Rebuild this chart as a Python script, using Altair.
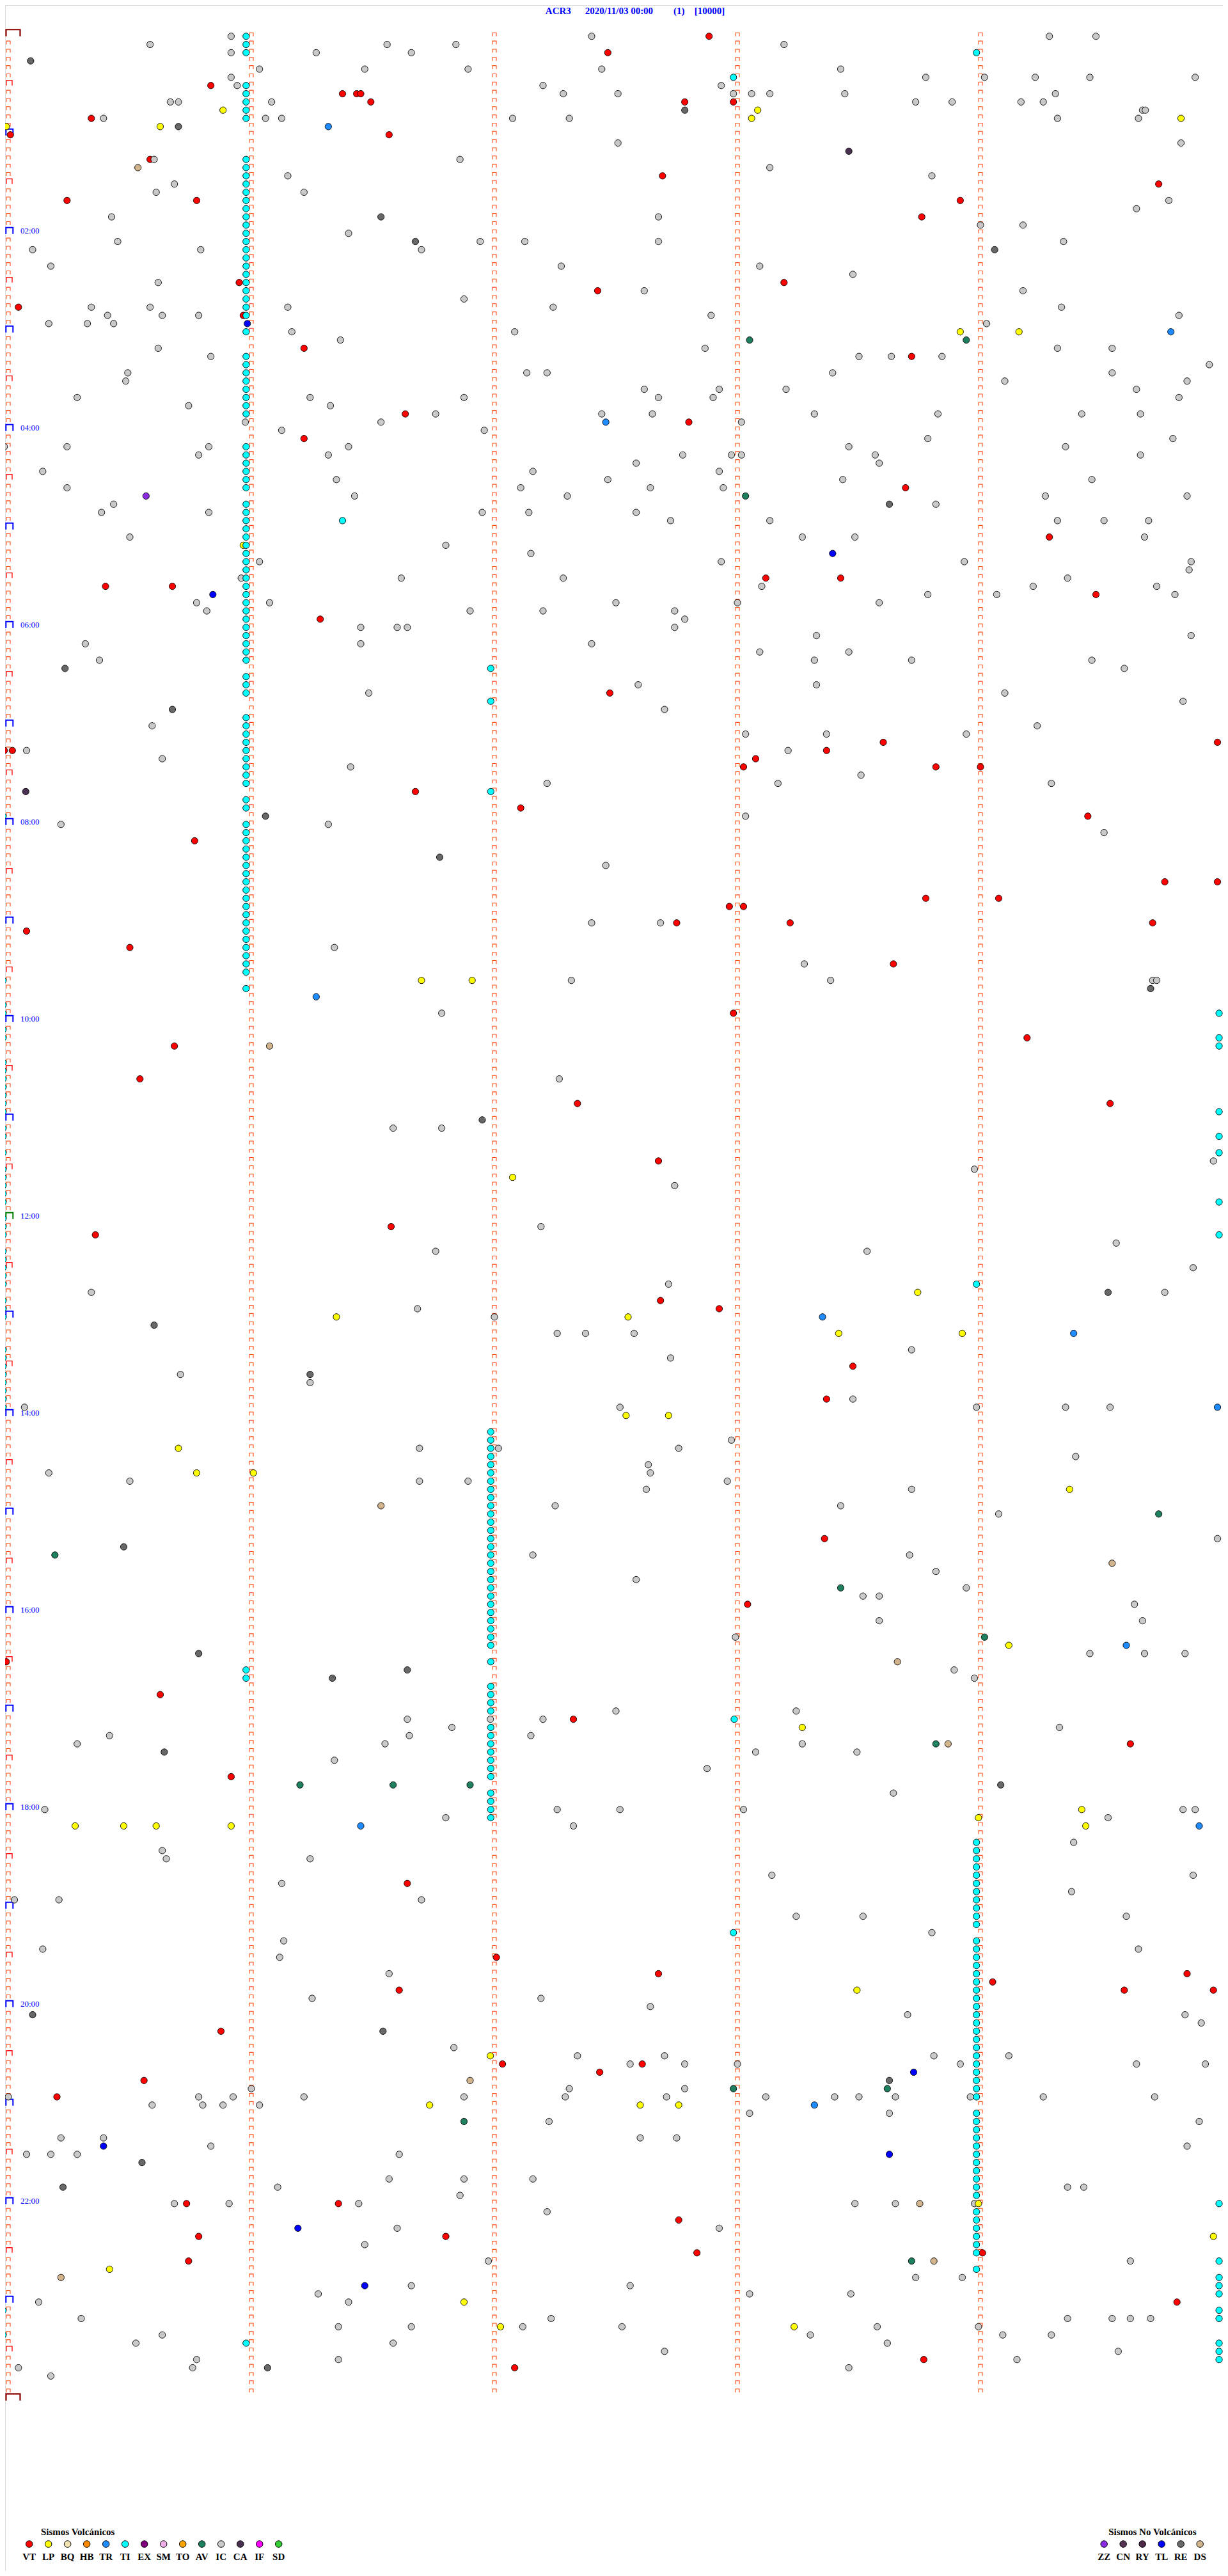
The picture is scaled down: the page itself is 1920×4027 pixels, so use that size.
import altair as alt
import pandas as pd

# Each event: [line index (5-minute line counted from 00:00), second inside that line]
VT = [[0,173],[2,148],[6,50],[7,82.5],[7,86],[7,87],[8,89.5],[8,167],[8,179],[10,20.5],[12,0.5],[12,94],
      [15,35],[17,161.5],[18,284],[20,14.5],[20,46.5],[20,235],[22,225.5],[30,57],[30,191.5],[31,145.5],
      [33,2.5],[34,58],[38,73],[39,223],[46,98],[47,168],[49,73],[55,221.5],[61,257],[66,187],[66,205.5],
      [67,24],[67,40.5],[68,268.5],[71,77],[80,148.5],[86,216],[86,298.5],[87,-1],[87,1],[87,202],
      [88,184.5],[89,181.5],[89,229],[89,240],[92,100.5],[94,126.5],[95,266.5],[98,46],[103,285.5],
      [103,298.5],[105,226.5],[105,244.5],[106,178],[106,181.5],[108,165],[108,193],[108,282.5],[109,4.5],
      [111,30],[113,218.5],[119,179],[122,251.5],[123,41],[127,32.5],[130,140.5],[130,272],[137,160.5],
      [145,94.5],[146,21.5],[154,161],[155,175.5],[162,208.5],[166,202],[183,201.5],[191,182.5],[198,-0.5],
      [202,37.5],[205,139.5],[208,277],[212,55],[225,98.5],[234,120.5],[236,160.5],[236,291],[237,243],
      [238,96.5],[238,275.5],[238,297.5],[243,52.5],[247,122],[247,156.5],[248,146],[249,33.5],[251,12],
      [264,44],[264,81.5],[266,165.5],[268,47],[268,108],[270,170],[270,240.5],[271,44.5],[276,288.5],
      [283,226],[284,125]]

IC = [[0,55],[0,144],[0,257],[0,268.5],[1,35],[1,93.5],[1,110.5],[1,191.5],[2,55],[2,76],[2,99.5],
      [4,62],[4,88],[4,113.5],[4,146.5],[4,205.5],[5,55],[5,226.5],[5,241],[5,253.5],[5,267],[5,293],
      [6,56.5],[6,132],[6,176],[7,137],[7,150.5],[7,179],[7,183.5],[7,188],[7,206.5],[7,258.5],
      [8,40],[8,42],[8,65],[8,224],[8,233],[8,250],[8,255.5],[9,280],[9,280.7],
      [10,23.5],[10,63.5],[10,67.5],[10,124.5],[10,138.5],[10,259],[10,279],[13,150.5],[13,289.5],
      [15,36],[15,111.5],[16,188],[17,69],[17,228],[18,41],[19,36.5],[19,73],[20,286.5],[21,278.5],
      [22,25.5],[22,160.5],[23,240],[23,250.5],[24,84],[25,27],[25,116.5],[25,127.5],[25,160.5],[25,260.5],
      [26,6],[26,47.5],[26,102],[28,10.5],[28,136.5],[28,185.5],[29,208.5],[30,37],[31,157],[31,250.5],
      [32,112.5],[33,20.5],[33,35],[33,69],[33,134.5],[33,260],[34,24.5],[34,38],[34,47],[34,173.5],[34,289],
      [35,10],[35,19.5],[35,26],[35,241.5],[36,70],[36,125],[37,82],[38,37],[38,172],[38,259],[38,272.5],
      [39,50],[39,210],[39,218],[39,230.5],[40,296.5],[41,29.5],[41,128],[41,133],[41,203.5],[41,272.5],
      [42,29],[42,246],[42,291],[43,157],[43,175.5],[43,192],[43,278.5],[44,17],[44,74.5],[44,112.5],
      [44,160.5],[44,174],[44,289],[45,44.5],[45,79.5],[46,105.5],[46,146.5],[46,159],[46,199],[46,229.5],
      [46,265],[46,279.5],[47,58.5],[47,92],[47,181],[48,67.5],[48,117.5],[49,227],[49,287.5],
      [50,-1],[50,14.5],[50,49.5],[50,84],[50,207.5],[50,261],[51,47],[51,79],[51,166.5],[51,178.5],
      [51,181],[51,214],[51,279.5],[52,155],[52,215],[53,8.5],[53,129.5],[53,175.5],[54,81],[54,148],
      [54,206],[54,267.5],[55,14.5],[55,126.5],[55,158.5],[55,176.5],[56,85.5],[56,138],[56,256],[56,291],
      [57,26],[57,229],[58,23],[58,49.5],[58,117],[58,128.5],[58,155],[59,163.5],[59,188],[59,259],
      [59,270.5],[59,281.5],[61,30],[61,196],[61,209],[61,280.5],[62,108],[63,129],[64,62],[64,176],
      [64,236],[64,292],[65,291.5],[66,57.5],[66,97],[66,137],[66,261.5],[67,186],[67,253],[67,283.5],
      [68,227],[68,244],[68,288],[69,46.5],[69,64.5],[69,150],[69,180],[69,215],[70,49],[70,114],
      [70,132],[70,164.5],[71,167],[72,87],[72,96],[72,98.5],[72,164.5],[73,199.5],[73,292],[74,19],
      [74,87],[74,144],[75,185.5],[75,207.5],[76,22.5],[76,199],[76,223],[76,267.5],[77,275.5],
      [79,155.5],[79,199.5],[80,89],[80,246],[81,290],[82,162],[84,35.5],[84,254],[85,182],[85,202],
      [85,236.5],[87,4.5],[87,192.5],[88,38],[89,84.5],[90,210.5],[91,133],[91,190],[91,257.5],[95,182],
      [96,13],[96,79],[97,270.5],[101,147.5],[108,144],[108,161],[111,80.5],[113,196.5],[115,139],
      [115,203],[115,282.5],[115,283.5],[119,107],[127,136],[133,95],[133,107],[137,297.5],[138,238.5],
      [140,164.5],[145,131.5],[147,273.5],[148,105.5],[148,212],[150,292.5],[152,163],[153,20.5],
      [153,285.5],[155,101],[156,120],[158,135.5],[158,142.5],[158,154.5],[160,223],[161,163.5],
      [163,42.5],[164,74.5],[166,208.5],[167,4],[167,151],[167,239],[167,261],[167,272],[171,178.5],
      [172,101.5],[172,121],[172,165.5],[173,263.5],[174,158],[175,10],[175,158.5],[176,30],[176,101.5],
      [176,113.5],[176,177.5],[177,157.5],[177,223],[179,135],[179,205.5],[180,244.5],[183,298.5],
      [185,129.5],[185,222.5],[187,229],[188,155],[189,236.5],[190,211],[190,215],[191,278],[193,215],
      [193,280],[195,179.5],[197,267],[197,280.5],[197,290.5],[199,233.5],[200,238.5],[204,150],
      [204,194.5],[205,98.5],[205,119],[205,132],[206,109.5],[206,259.5],[207,25],[207,99],[207,129],
      [208,17],[208,93],[208,196],[209,184.5],[209,209.5],[210,80.5],[211,172.5],[214,218.5],[216,9],
      [216,135.5],[216,151],[216,181.5],[216,290],[216,293],[217,108],[217,271.5],[218,139.5],[220,263],
      [221,38],[222,39],[222,74.5],[224,188.5],[224,292.5],[225,67.5],[226,262.5],[227,1.5],[227,12.5],
      [227,102],[229,194.5],[229,211],[229,276],[231,228],[232,68],[233,8.5],[233,279],[234,67],[236,94],
      [239,75],[239,131.5],[240,158.5],[241,222],[241,290.5],[242,294.5],[245,110],[246,140.5],[246,162],
      [246,228.5],[246,247],[247,153.5],[247,167],[247,180],[247,235],[247,278.5],[247,295.5],[250,60],
      [250,138.5],[250,167],[251,0],[251,47],[251,55.5],[251,73],[251,112.5],[251,137.5],[251,162.5],
      [251,187],[251,204],[251,210],[251,219],[251,237.5],[251,255.5],[251,283],[252,35.5],[252,48],
      [252,53],[252,62],[253,183],[253,217.5],[254,133.5],[254,294],[256,13],[256,23.5],[256,156],
      [256,165],[257,50],[257,291],[258,4.5],[258,10.5],[258,17],[258,96.5],[261,94],[261,112.5],
      [261,129.5],[262,66.5],[262,261.5],[262,265.5],[263,111.5],[264,41],[264,54.5],[264,86.5],[264,209],
      [264,219],[264,238.5],[265,133],[267,96],[267,175.5],[269,88],[271,118.5],[271,277],[273,224],
      [273,235.5],[274,99.5],[274,153.5],[275,76.5],[275,183],[275,208],[276,7.5],[276,84],[278,18],
      [278,134],[278,261.5],[278,272.5],[278,277],[278,282],[279,81.5],[279,99.5],[279,127],[279,151.5],
      [279,214.5],[279,239.5],[280,38],[280,198],[280,245.5],[280,257.5],[281,31.5],[281,95],[281,217],
      [282,162],[282,274],[283,46.5],[283,81.5],[283,249],[284,2.5],[284,45.5],[284,207.5],[285,10.5]]

LP = [[9,53],[9,185],[10,183.5],[10,289.5],[11,-0.5],[11,37.5],[36,235],[36,249.5],[62,58],[115,102],
      [115,114.5],[139,124.5],[153,224.5],[156,81],[156,153],[158,205],[158,235.5],[168,152.5],[168,163],
      [172,42],[175,46.5],[175,60.5],[177,262],[196,247],[206,196],[216,265],[217,239.5],[218,16.5],
      [218,28.5],[218,36.5],[218,55],[218,266],[238,209.5],[246,119],[252,104],[252,156],[252,165.5],
      [264,239.5],[268,297.5],[272,25],[276,112.5],[279,121.5],[279,194]]

# TI events, grouped by the second at which they sit in the line
TI_M0 = [95,115,118,119,121,122,125,126,127,128,129,130,131,133,134,136,138,139,140,141,142,144,145,
         146,148,149,150,151,152,154,155,156,160,161,162,163,164,165,166,167,277,280]
TI_M1 = [0,1,2,6,7,8,9,10] + list(range(15,35)) + [36] + list(range(39,47)) + list(range(50,56)) + \
        list(range(57,77)) + [78,79,80] + list(range(83,92)) + [93,94] + list(range(96,115)) + \
        [116,199,200,281]
TI_M2 = [77,81,92] + list(range(170,197)) + [198,201,202,203,204] + list(range(206,213)) + [214,215,216,217]
TI_M4 = [2,152] + list(range(220,231)) + list(range(232,252)) + list(range(253,264)) + \
        list(range(265,271)) + [272]
TI_END = [119,122,123,131,134,136,142,146,264,271,273,274,275,277,278,281,282,283]
TI_OTHER = [[5,179],[59,82.5],[205,179.2],[231,179]]

TR = [[11,79],[36,287],[47,147.5],[117,76],[156,201],[158,263],[167,298.5],[196,276],[218,87],
      [218,294],[252,199]]
TL = [[35,59],[63,203.5],[68,50.5],[248,223.5],[257,23.5],[258,217.5],[267,71.5],[274,88]]
RE = [[3,5.5],[9,167],[11,42],[22,92],[25,100.5],[26,243.5],[57,217.5],[77,14],[82,40.5],[95,63.5],
      [100,106.5],[116,282],[132,117],[153,271.5],[157,36],[163,74.5],[184,28.5],[197,47],[199,98.5],
      [200,80],[209,38.5],[213,245],[241,6],[243,92.5],[249,217.5],[259,33],[262,13.5],[284,64]]
CA = [[14,207.5],[92,4.3]]
ZZ = [[56,34]]
AV = [[37,183],[37,236.5],[56,182],[180,284],[185,11.5],[189,205.5],[195,241],[208,229],[213,72],
      [213,95],[213,114],[250,179],[250,217],[254,112.5],[271,223]]
DS = [[16,32],[123,64.5],[179,92],[186,272.5],[198,219.5],[208,232],[249,114],[264,225],[271,228.5],
      [273,13]]

VOLC_CODES = ["VT","LP","BQ","HB","TR","TI","EX","SM","TO","AV","IC","CA","IF","SD"]
NOVOLC_CODES = ["ZZ","CN","RY","TL","RE","DS"]
COLORS = {"VT":"#ff0000","LP":"#ffff00","BQ":"#f3e3b3","HB":"#ff8a00","TR":"#1e8cff","TI":"#00ffff",
          "EX":"#800080","SM":"#eeb0e6","TO":"#ffa500","AV":"#1f8060","IC":"#c9c9c9","CA":"#4a3050",
          "IF":"#ff00ff","SD":"#33cc33","ZZ":"#8a2be2","CN":"#553355","RY":"#4d2a48","TL":"#0000ff",
          "RE":"#686868","DS":"#d2b48c"}
HOUR_LABELS = ["02:00","04:00","06:00","08:00","10:00","12:00","14:00","16:00","18:00","20:00","22:00"]
TITLE_PARTS = ["ACR3", "2020/11/03 00:00", "(1)", "[10000]"]
TITLE_POS = [132.6, 142.4, 164.2, 169.4]

# ---------------- build tables ----------------
recs = []
def add(code, pts):
    for r, s in pts:
        recs.append({"row": r, "sec": s, "code": code})

add("DS", DS); add("VT", VT); add("IC", IC); add("LP", LP)
add("TI", [[r, -1.3] for r in TI_M0]); add("TI", [[r, 58.7] for r in TI_M1])
add("TI", [[r, 119.1] for r in TI_M2]); add("TI", [[r, 239] for r in TI_M4])
add("TI", [[r, 298.9] for r in TI_END]); add("TI", TI_OTHER)
add("TR", TR); add("TL", TL); add("RE", RE); add("CA", CA); add("ZZ", ZZ); add("AV", AV)
ev = pd.DataFrame(recs)
ev["order"] = range(len(ev))

# minute ticks on every line
small, half, hour, noon = [], [], [], []
for r in range(0, 288):
    for c in range(5):
        if c == 0 and (r == 0 or r % 6 == 0):
            continue
        small.append({"row": r, "sec": c * 60})
    if r % 12 == 6:
        half.append({"row": r, "sec": 0})
    elif r % 12 == 0 and r != 0:
        (noon if r == 144 else hour).append({"row": r, "sec": 0})
ends = [{"row": 0, "sec": 0}, {"row": 288, "sec": 0}]

labels = pd.DataFrame({"row": [24 * (i + 1) for i in range(len(HOUR_LABELS))],
                       "sec": [3.0] * len(HOUR_LABELS), "txt": HOUR_LABELS})

leg = []
for i, c in enumerate(VOLC_CODES):
    leg.append({"code": c, "sec": 5.16 + 4.737 * i})
for i, c in enumerate(NOVOLC_CODES):
    leg.append({"code": c, "sec": 270.5 + 4.737 * i})
leg = pd.DataFrame(leg)
leg["row"] = 305.47
leg["lrow"] = 307.45
leg_titles = pd.DataFrame({"txt": ["Sismos Volcánicos", "Sismos No Volcánicos"],
                           "sec": [8.05, 271.6], "row": [304.4, 304.4]})
title_df = pd.DataFrame({"txt": TITLE_PARTS, "sec": TITLE_POS, "row": [-2.74] * 4})

# ---------------- scales ----------------
XS = alt.Scale(domain=[-0.789, 299.84], nice=False, zero=False)
YS = alt.Scale(domain=[-3.795, 308.74], nice=False, zero=False, reverse=True)
x = alt.X("sec:Q", scale=XS, axis=None)
y = alt.Y("row:Q", scale=YS, axis=None)
dom = list(COLORS.keys())
rng = [COLORS[k] for k in dom]
col = alt.Color("code:N", scale=alt.Scale(domain=dom, range=rng), legend=None)

def tick_layer(data, path, size, color, sw):
    return alt.Chart(pd.DataFrame(data)).mark_point(
        shape=path, size=size, filled=False, color=color, strokeWidth=sw, opacity=1
    ).encode(x=x, y=y)

l_small = tick_layer(small, "M-1,0L-1,-1.8L1,-1.8L1,0", 36, "#ff4a10", 1.1)
l_half = tick_layer(half, "M-0.67,0L-0.67,-1.8L1.33,-1.8L1.33,0", 81, "#ff1010", 1.4)
l_hour = tick_layer(hour, "M-0.67,0.18L-0.67,-1.64L1.33,-1.64L1.33,0.18", 121, "#0000ff", 2)
l_noon = tick_layer(noon, "M-0.67,0.18L-0.67,-1.64L1.33,-1.64L1.33,0.18", 121, "#008000", 2)
l_ends = tick_layer(ends, "M-0.32,0L-0.32,-0.95L1.68,-0.95L1.68,0", 484, "#8b0000", 2.2)

l_lab = alt.Chart(labels).mark_text(
    align="left", baseline="middle", dy=-4, font="Liberation Serif", fontSize=13,
    color="#0000ff").encode(x=x, y=y, text="txt:N")

l_ev = alt.Chart(ev).mark_point(
    shape="circle", filled=True, size=104, stroke="black", strokeWidth=0.9, opacity=1
).encode(x=x, y=y, color=col, order="order:Q")

l_title = alt.Chart(title_df).mark_text(
    align="left", baseline="alphabetic", font="Liberation Serif", fontSize=15, fontWeight="bold",
    color="#0000ff").encode(x=x, y=y, text="txt:N")

l_leg = alt.Chart(leg).mark_point(
    shape="circle", filled=True, size=110, stroke="black", strokeWidth=1, opacity=1
).encode(x=x, y=y, color=col)
l_leg_lab = alt.Chart(leg).mark_text(
    align="center", baseline="alphabetic", font="Liberation Serif", fontSize=15, fontWeight="bold",
    color="black").encode(x=x, y=alt.Y("lrow:Q", scale=YS, axis=None), text="code:N")
l_leg_t = alt.Chart(leg_titles).mark_text(
    align="left", baseline="alphabetic", font="Liberation Serif", fontSize=15, fontWeight="bold",
    color="black").encode(x=x, y=y, text="txt:N")

chart = alt.layer(
    l_small, l_half, l_hour, l_noon, l_ends, l_lab, l_ev, l_title, l_leg, l_leg_lab, l_leg_t
).properties(width=1904, height=4011, padding=0, autosize=alt.AutoSizeParams(type="none")
).configure_view(stroke=None).configure(background="white")

chart.save("out.html", embed_options={"renderer": "svg", "actions": False})
